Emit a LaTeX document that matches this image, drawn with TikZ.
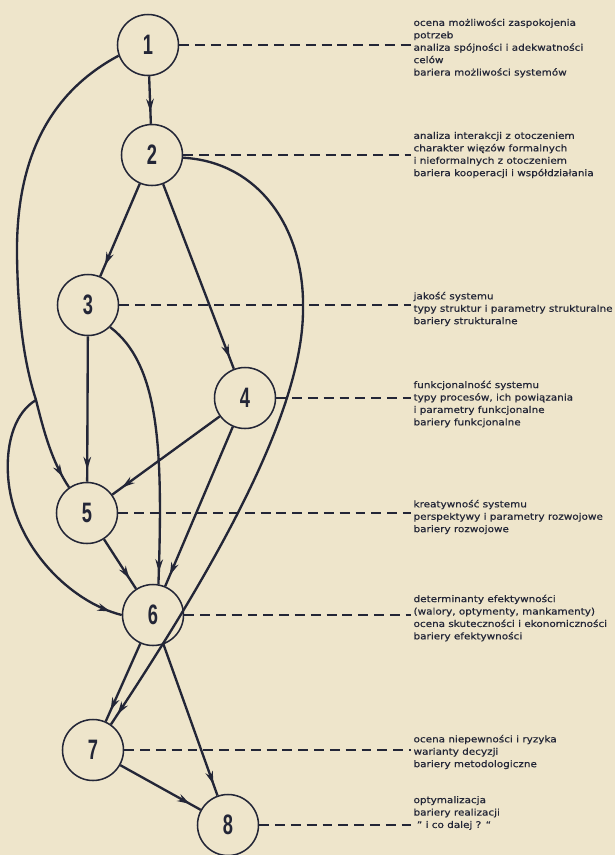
\documentclass[tikz,border=0pt]{standalone}
\usepackage{fontspec}
\newfontfamily\notefont[FakeStretch=1.14, FakeBold=0.6]{DejaVu Sans}
\newfontfamily\numfont[FakeStretch=0.65]{Liberation Sans}
\usetikzlibrary{arrows.meta, decorations.markings}

\definecolor{paper}{RGB}{238,229,203}
\definecolor{ink}{RGB}{35,38,55}

\begin{document}
\begin{tikzpicture}[
    x=0.03cm, y=-0.03cm,
    >=Stealth,
    station/.style={circle, draw=ink, line width=1.3pt, minimum size=1.83cm,
        inner sep=0pt, font=\numfont\bfseries\fontsize{24}{24}\selectfont, text=ink},
    note/.style={anchor=west, align=left, inner xsep=2pt, inner ysep=0pt,
        font=\notefont\fontsize{7.8}{10.6}\selectfont, text=ink},
    flow/.style={draw=ink, line width=2pt, postaction={decorate},
        decoration={markings, mark=at position -0.36cm with
            {\arrow[ink]{Stealth[length=11pt, width=6.5pt]}}}},
    sweep/.style={draw=ink, line width=2pt},
    guide/.style={draw=ink, line width=1.2pt, dash pattern=on 8.5pt off 5pt},
]

% ---- Paper ----
\fill[paper] (0,0) rectangle (615,855);
\useasboundingbox (0,0) rectangle (615,855);

% ---- Stages ----
\foreach \n/\x/\y in {1/148/45, 2/152/155, 3/88/305, 4/245/398,
                      5/87/513, 6/153/615, 7/93/750, 8/228/825}
    \node[station] (n\n) at (\x,\y) {\n};

% ---- Descriptions ----
\node[note] (t1) at (411,48)
    {ocena możliwości zaspokojenia\\ potrzeb\\ analiza spójności i adekwatności\\ celów\\ bariera możliwości systemów};
\node[note] (t2) at (411,155)
    {analiza interakcji z otoczeniem\\ charakter więzów formalnych\\ i nieformalnych z otoczeniem\\ bariera kooperacji i współdziałania};
\node[note] (t3) at (411,309)
    {jakość systemu\\ typy struktur i parametry strukturalne\\ bariery strukturalne};
\node[note] (t4) at (411,404)
    {funkcjonalność systemu\\ typy procesów, ich powiązania\\ i parametry funkcjonalne\\ bariery funkcjonalne};
\node[note] (t5) at (411,517)
    {kreatywność systemu\\ perspektywy i parametry rozwojowe\\ bariery rozwojowe};
\node[note] (t6) at (411,618)
    {determinanty efektywności\\ (walory, optymenty, mankamenty)\\ ocena skuteczności i ekonomiczności\\ bariery efektywności};
\node[note] (t7) at (411,752)
    {ocena niepewności i ryzyka\\ warianty decyzji\\ bariery metodologiczne};
\node[note] (t8) at (411,813)
    {optymalizacja\\ bariery realizacji\\ \ ” i co dalej ? “};

% dashed leaders from each stage to its description
\foreach \n in {1,...,8}
    \draw[guide] (n\n.east) -- (n\n.east -| t\n.west);

% ---- Straight links ----
\foreach \a/\b in {1/2, 2/3, 2/4, 3/5, 4/5, 4/6, 5/6, 6/7, 6/8, 7/8}
    \draw[flow] (n\a) -- (n\b);

% ---- Curved links ----
% 1 -> 5 along the left edge, with a fork to 6
\coordinate (fork) at (36,400);
\draw[sweep] (n1.200) .. controls (45,95) and (16,165) .. (17,255)
    .. controls (18,330) and (27,372) .. (fork);
\draw[flow] (fork) .. controls (44,432) and (52,462) .. (n5.125);
\draw[flow] (fork) .. controls (16,412) and (6,440) .. (8,475)
    .. controls (12,545) and (70,602) .. (n6.west);

% 3 -> 6
\draw[flow] (n3.-45) .. controls (160,365) and (163,450) .. (n6.80);

% 2 -> 7 round the right side
\draw[sweep] (n2.-5) .. controls (260,162) and (305,230) .. (303,310);
\draw[flow] (303,310) .. controls (303,420) and (200,590) .. (n7.55);

\end{tikzpicture}
\end{document}
